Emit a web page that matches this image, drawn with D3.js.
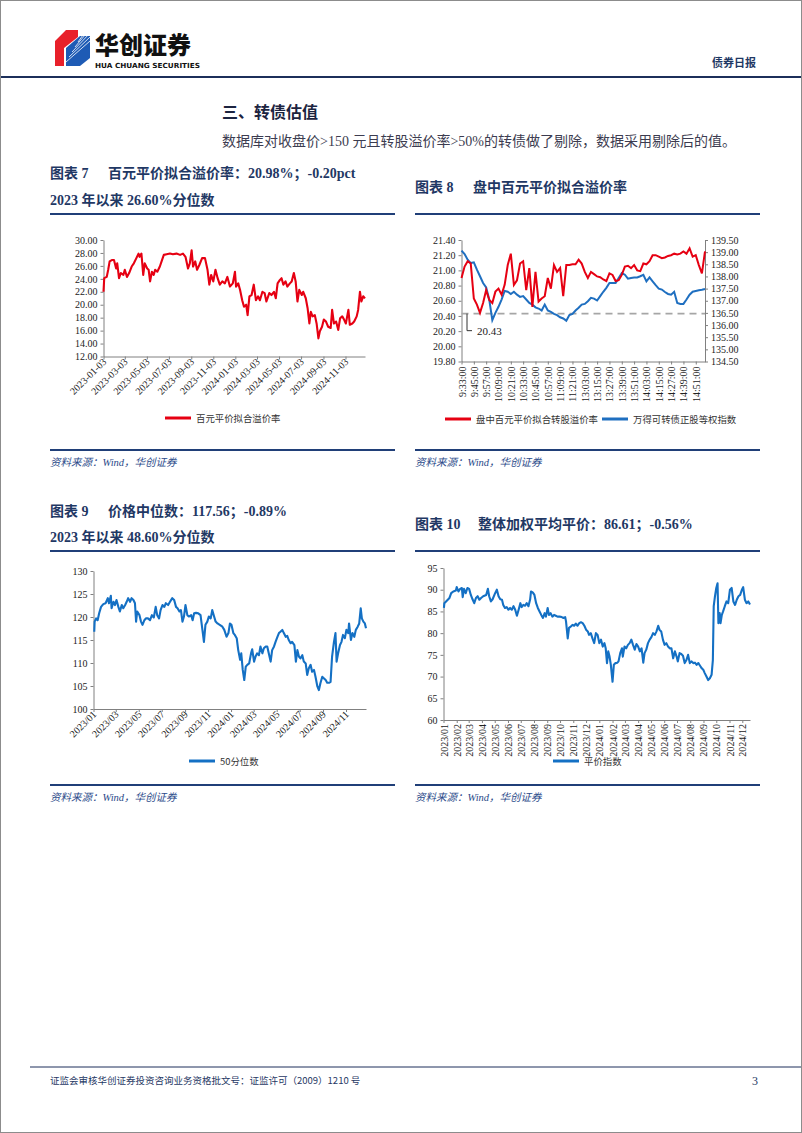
<!DOCTYPE html>
<html>
<head>
<meta charset="utf-8">
<script src="https://cdn.jsdelivr.net/npm/d3@7/dist/d3.min.js"></script>
<style>
  body { margin: 0; background: #fff; }
  svg { font-family: "Liberation Serif", "Noto Sans CJK SC", serif; }
  .cn { font-family: "Noto Sans CJK SC", sans-serif; }
</style>
</head>
<body>
<svg id="page" width="802" height="1133"></svg>
<script>
// 图表 7 百元平价拟合溢价率 (日度, 2023-01 ~ 2024-12)
const c7Dates = ['2023-01-03','2023-01-05','2023-01-12','2023-01-16','2023-01-20','2023-01-26','2023-02-01','2023-02-07','2023-02-10','2023-02-15','2023-02-20','2023-02-27','2023-03-03','2023-03-09','2023-03-15','2023-03-22','2023-03-28','2023-04-04','2023-04-10','2023-04-13','2023-04-18','2023-04-23','2023-04-27','2023-05-04','2023-05-08','2023-05-12','2023-05-17','2023-05-22','2023-05-26','2023-06-01','2023-06-08','2023-06-14','2023-06-19','2023-06-27','2023-07-06','2023-07-14','2023-07-24','2023-08-03','2023-08-11','2023-08-18','2023-08-25','2023-08-30','2023-09-04','2023-09-08','2023-09-14','2023-09-19','2023-09-25','2023-10-03','2023-10-11','2023-10-18','2023-10-23','2023-10-28','2023-11-03','2023-11-09','2023-11-15','2023-11-21','2023-11-28','2023-12-05','2023-12-12','2023-12-19','2023-12-27','2024-01-02','2024-01-05','2024-01-11','2024-01-16','2024-01-22','2024-01-27','2024-02-02','2024-02-06','2024-02-11','2024-02-17','2024-02-23','2024-02-29','2024-03-06','2024-03-11','2024-03-18','2024-03-24','2024-03-29','2024-04-06','2024-04-12','2024-04-19','2024-04-24','2024-04-29','2024-05-05','2024-05-10','2024-05-15','2024-05-21','2024-05-26','2024-06-02','2024-06-07','2024-06-13','2024-06-18','2024-06-23','2024-06-28','2024-07-05','2024-07-09','2024-07-16','2024-07-21','2024-07-26','2024-07-30','2024-08-04','2024-08-10','2024-08-15','2024-08-20','2024-08-24','2024-08-30','2024-09-04','2024-09-10','2024-09-16','2024-09-23','2024-09-27','2024-10-02','2024-10-08','2024-10-14','2024-10-19','2024-10-25','2024-10-30','2024-11-04','2024-11-11','2024-11-15','2024-11-22','2024-11-27','2024-12-04','2024-12-08','2024-12-13','2024-12-17','2024-12-22','2024-12-27'];
const c7Values = [22.0,24.1,24.3,25.4,26.7,26.9,26.9,25.6,26.4,24.1,24.9,24.6,25.4,24.3,24.9,25.9,26.4,27.2,27.9,27.4,27.9,24.6,26.4,25.6,25.4,23.6,25.1,24.6,25.4,25.1,25.9,26.9,27.7,27.8,27.9,27.8,27.9,27.7,27.9,27.4,25.6,26.4,28.4,25.9,26.7,25.4,26.1,27.2,27.2,25.4,23.1,24.6,23.6,25.4,24.1,23.1,23.6,23.3,24.3,22.8,23.3,25.1,22.8,23.3,22.3,20.7,19.7,20.0,18.4,21.3,21.5,23.1,20.7,21.3,20.7,22.0,21.8,20.5,21.8,21.5,22.0,21.0,23.3,23.8,24.1,23.1,23.6,22.8,23.3,23.6,24.9,23.6,20.5,22.3,21.5,22.0,21.0,19.5,17.1,18.9,18.2,18.4,17.1,14.8,15.9,16.6,17.7,17.4,16.6,16.4,19.2,17.1,17.4,16.1,17.9,18.2,17.7,17.1,19.2,16.9,17.1,17.4,18.2,19.2,22.0,20.5,21.3,20.98];
const c7Ticks = ['2023-01-03','2023-03-03','2023-05-03','2023-07-03','2023-09-03','2023-11-03','2024-01-03','2024-03-03','2024-05-03','2024-07-03','2024-09-03','2024-11-03'];

// 图表 8 盘中 (3分钟)
const c8Times = ['9:33:00','9:36:00','9:39:00','9:42:00','9:45:00','9:48:00','9:51:00','9:54:00','9:57:00','10:00:00','10:03:00','10:06:00','10:09:00','10:12:00','10:15:00','10:18:00','10:21:00','10:24:00','10:27:00','10:30:00','10:33:00','10:36:00','10:39:00','10:42:00','10:45:00','10:48:00','10:51:00','10:54:00','10:57:00','11:00:00','11:03:00','11:06:00','11:09:00','11:12:00','11:15:00','11:18:00','11:21:00','11:24:00','11:27:00','11:30:00','13:03:00','13:06:00','13:09:00','13:12:00','13:15:00','13:18:00','13:21:00','13:24:00','13:27:00','13:30:00','13:33:00','13:36:00','13:39:00','13:42:00','13:45:00','13:48:00','13:51:00','13:54:00','13:57:00','14:00:00','14:03:00','14:06:00','14:09:00','14:12:00','14:15:00','14:18:00','14:21:00','14:24:00','14:27:00','14:30:00','14:33:00','14:36:00','14:39:00','14:42:00','14:45:00','14:48:00','14:51:00','14:54:00','14:57:00','15:00:00'];
const c8Premium = [20.90,21.05,21.12,21.09,20.63,20.55,20.44,20.57,20.74,20.61,20.57,20.72,20.76,20.68,20.81,21.07,21.22,20.81,20.87,21.09,21.12,20.74,21.03,20.52,20.98,20.59,20.63,20.66,20.90,20.76,21.07,20.98,21.03,20.66,21.07,21.07,21.08,21.08,21.14,21.09,20.98,20.90,20.98,20.95,20.92,20.91,20.88,20.86,20.96,20.94,20.86,20.87,20.94,21.05,21.06,21.03,21.07,21.00,20.99,21.09,21.08,21.12,21.20,21.20,21.18,21.16,21.17,21.19,21.20,21.22,21.21,21.22,21.25,21.22,21.29,21.18,21.20,21.07,20.96,21.25];
const c8Index = [139.06,138.92,138.69,138.55,138.58,138.28,138.01,137.73,137.55,137.05,136.20,136.50,136.75,137.05,137.40,137.37,137.28,137.37,137.25,137.16,137.19,137.05,136.91,136.84,136.73,136.68,136.60,136.84,136.60,136.54,136.46,136.41,136.32,136.27,136.18,136.41,136.46,136.60,136.71,136.84,136.87,136.98,137.12,137.09,137.01,137.19,137.37,137.53,137.73,137.73,137.73,137.94,138.14,138.07,137.91,137.94,137.96,137.96,138.01,138.07,137.80,137.96,137.80,137.64,137.50,137.46,137.36,137.28,137.25,137.37,136.91,136.87,136.87,137.05,137.25,137.37,137.40,137.43,137.45,137.48];
const c8Base = 20.43;

// 图表 9 价格中位数
const c9Dates = ['2023-01-03','2023-01-04','2023-01-08','2023-01-12','2023-01-16','2023-01-21','2023-01-27','2023-02-02','2023-02-08','2023-02-11','2023-02-16','2023-02-18','2023-02-23','2023-02-27','2023-03-03','2023-03-08','2023-03-12','2023-03-17','2023-03-21','2023-03-26','2023-03-30','2023-04-03','2023-04-08','2023-04-12','2023-04-17','2023-04-21','2023-04-24','2023-04-27','2023-05-03','2023-05-07','2023-05-11','2023-05-16','2023-05-20','2023-05-26','2023-05-31','2023-06-05','2023-06-10','2023-06-15','2023-06-19','2023-06-24','2023-06-28','2023-07-03','2023-07-08','2023-07-12','2023-07-18','2023-07-23','2023-07-29','2023-08-03','2023-08-08','2023-08-12','2023-08-17','2023-08-21','2023-08-25','2023-08-29','2023-09-02','2023-09-07','2023-09-11','2023-09-17','2023-09-21','2023-09-25','2023-09-30','2023-10-06','2023-10-12','2023-10-17','2023-10-21','2023-10-25','2023-10-30','2023-11-03','2023-11-08','2023-11-12','2023-11-17','2023-11-21','2023-11-26','2023-12-02','2023-12-09','2023-12-14','2023-12-20','2023-12-25','2023-12-29','2024-01-02','2024-01-07','2024-01-11','2024-01-16','2024-01-20','2024-01-25','2024-01-28','2024-02-01','2024-02-05','2024-02-09','2024-02-13','2024-02-18','2024-02-23','2024-02-26','2024-03-02','2024-03-06','2024-03-10','2024-03-15','2024-03-19','2024-03-24','2024-03-28','2024-04-02','2024-04-06','2024-04-10','2024-04-15','2024-04-19','2024-04-24','2024-04-28','2024-05-03','2024-05-07','2024-05-11','2024-05-16','2024-05-20','2024-05-25','2024-05-29','2024-06-02','2024-06-07','2024-06-11','2024-06-17','2024-06-21','2024-06-25','2024-06-29','2024-07-03','2024-07-08','2024-07-12','2024-07-17','2024-07-21','2024-07-25','2024-07-30','2024-08-03','2024-08-08','2024-08-12','2024-08-17','2024-08-21','2024-08-25','2024-08-30','2024-09-03','2024-09-08','2024-09-12','2024-09-17','2024-09-21','2024-09-25','2024-09-30','2024-10-04','2024-10-07','2024-10-11','2024-10-16','2024-10-20','2024-10-24','2024-10-29','2024-11-02','2024-11-07','2024-11-09','2024-11-14','2024-11-18','2024-11-23','2024-11-27','2024-12-02','2024-12-06','2024-12-10','2024-12-13','2024-12-17','2024-12-21','2024-12-24'];
const c9Values = [116.8,119.0,119.7,119.3,120.8,122.2,122.8,123.0,124.1,123.0,124.6,121.9,123.3,122.6,123.7,122.2,121.2,122.6,121.9,122.6,123.3,124.1,123.3,124.1,123.7,123.0,119.0,121.2,120.4,119.0,118.3,119.3,119.7,119.7,119.3,120.4,119.9,122.2,120.4,119.7,121.5,122.6,122.2,123.0,122.6,123.3,124.1,123.7,122.2,121.9,121.2,121.5,119.0,120.1,122.6,120.4,120.1,120.4,119.3,120.8,120.9,120.8,120.4,117.2,114.6,118.3,119.0,120.1,119.7,121.5,120.1,119.0,118.6,118.3,117.9,117.2,115.7,116.5,118.6,118.3,116.5,116.1,115.4,112.8,110.7,112.1,108.5,106.3,109.2,109.6,109.9,112.1,113.0,110.3,111.4,112.1,111.7,113.6,112.1,113.2,113.6,113.6,112.1,110.3,112.8,113.6,114.6,115.7,116.5,116.8,117.2,116.5,115.7,115.9,115.0,114.3,114.6,113.9,110.3,112.8,111.4,111.0,111.7,110.3,109.9,107.4,108.8,109.6,108.1,108.5,107.0,104.9,104.1,105.6,107.0,106.7,106.3,105.7,105.7,105.9,111.4,114.6,116.5,110.3,112.1,113.9,114.6,116.1,115.4,117.2,116.5,118.6,115.0,116.5,115.7,117.2,117.9,118.6,121.9,119.7,119.0,118.6,117.56];
const c9Ticks = ['2023/01','2023/03','2023/05','2023/07','2023/09','2023/11','2024/01','2024/03','2024/05','2024/07','2024/09','2024/11'];

// 图表 10 整体加权平均平价
const c10Dates = ['2023-01-02','2023-01-03','2023-01-07','2023-01-11','2023-01-15','2023-01-19','2023-01-24','2023-01-30','2023-02-01','2023-02-05','2023-02-09','2023-02-13','2023-02-15','2023-02-18','2023-02-22','2023-02-26','2023-03-02','2023-03-06','2023-03-10','2023-03-14','2023-03-18','2023-03-22','2023-03-26','2023-03-30','2023-04-04','2023-04-11','2023-04-15','2023-04-18','2023-04-22','2023-04-26','2023-05-02','2023-05-06','2023-05-10','2023-05-14','2023-05-18','2023-05-21','2023-05-25','2023-05-29','2023-06-02','2023-06-06','2023-06-10','2023-06-14','2023-06-18','2023-06-22','2023-06-26','2023-06-30','2023-07-03','2023-07-07','2023-07-11','2023-07-15','2023-07-19','2023-07-23','2023-07-25','2023-07-29','2023-08-02','2023-08-06','2023-08-10','2023-08-14','2023-08-18','2023-08-22','2023-08-26','2023-08-29','2023-09-02','2023-09-05','2023-09-09','2023-09-13','2023-09-17','2023-09-21','2023-09-25','2023-09-30','2023-10-05','2023-10-09','2023-10-13','2023-10-15','2023-10-19','2023-10-22','2023-10-26','2023-10-30','2023-11-03','2023-11-07','2023-11-11','2023-11-15','2023-11-19','2023-11-23','2023-11-27','2023-12-01','2023-12-05','2023-12-08','2023-12-12','2023-12-16','2023-12-20','2023-12-24','2023-12-28','2024-01-01','2024-01-05','2024-01-09','2024-01-13','2024-01-16','2024-01-19','2024-01-22','2024-01-25','2024-01-28','2024-02-01','2024-02-04','2024-02-08','2024-02-12','2024-02-15','2024-02-19','2024-02-23','2024-02-25','2024-02-29','2024-03-04','2024-03-08','2024-03-12','2024-03-16','2024-03-20','2024-03-24','2024-03-28','2024-04-01','2024-04-05','2024-04-09','2024-04-13','2024-04-16','2024-04-20','2024-04-24','2024-04-28','2024-05-02','2024-05-06','2024-05-10','2024-05-14','2024-05-18','2024-05-21','2024-05-25','2024-05-29','2024-06-02','2024-06-06','2024-06-10','2024-06-14','2024-06-18','2024-06-22','2024-06-26','2024-06-30','2024-07-03','2024-07-07','2024-07-11','2024-07-15','2024-07-19','2024-07-23','2024-07-27','2024-07-31','2024-08-04','2024-08-08','2024-08-12','2024-08-16','2024-08-20','2024-08-24','2024-08-28','2024-09-01','2024-09-04','2024-09-08','2024-09-12','2024-09-16','2024-09-20','2024-09-23','2024-09-25','2024-09-28','2024-10-01','2024-10-04','2024-10-06','2024-10-09','2024-10-11','2024-10-14','2024-10-17','2024-10-21','2024-10-25','2024-10-29','2024-11-02','2024-11-06','2024-11-10','2024-11-14','2024-11-18','2024-11-22','2024-11-26','2024-11-30','2024-12-03','2024-12-07','2024-12-11','2024-12-15','2024-12-19'];
const c10Values = [85.8,86.9,87.3,87.7,88.1,89.2,89.6,89.8,90.6,89.6,90.2,90.4,88.3,90.2,89.2,90.4,90.2,88.8,87.8,86.9,88.1,88.5,87.7,88.1,88.5,88.8,90.2,88.5,87.3,87.8,89.2,90.0,88.5,87.8,87.7,86.5,85.8,86.0,85.4,85.8,85.4,86.2,85.4,84.0,85.4,86.9,86.0,86.5,86.3,86.9,86.2,87.8,89.6,89.4,88.8,86.9,85.8,85.0,84.2,83.5,84.6,83.8,85.8,84.2,84.6,83.8,84.2,84.0,83.8,83.8,83.7,83.5,83.7,82.7,78.8,81.2,81.5,81.9,81.7,82.2,81.7,82.3,82.5,82.3,81.7,80.8,80.4,79.6,80.0,78.8,77.7,80.0,79.6,77.7,78.5,76.9,77.7,76.5,73.1,75.8,74.6,72.7,68.8,72.7,73.1,73.2,73.5,75.4,76.5,74.6,76.9,76.5,77.3,77.7,78.5,77.3,76.2,77.5,76.9,75.8,76.5,73.2,75.4,76.2,77.7,78.5,79.1,80.0,79.6,80.4,81.7,80.8,80.4,78.5,77.3,77.7,76.9,76.5,76.5,74.2,75.8,74.6,73.5,75.4,75.2,74.8,73.1,73.8,75.0,73.1,73.5,73.1,73.2,72.7,73.1,72.5,71.9,71.5,70.8,70.0,69.2,69.6,70.4,73.8,86.2,88.5,90.4,91.5,82.3,84.6,82.3,84.2,85.0,86.2,87.3,86.9,90.0,90.4,87.3,86.5,87.7,88.5,88.8,90.0,90.6,87.7,86.9,87.3,86.61];
const c10Ticks = ['2023/01','2023/02','2023/03','2023/04','2023/05','2023/06','2023/07','2023/08','2023/09','2023/10','2023/11','2023/12','2024/01','2024/02','2024/03','2024/04','2024/05','2024/06','2024/07','2024/08','2024/09','2024/10','2024/11','2024/12'];

const NAVY = '#1f3864';
const RED = '#e60012';
const BLUE = '#1470c4';
const AXIS = '#808080';
const parseDay = d3.timeParse('%Y-%m-%d');
const parseMonth = d3.timeParse('%Y/%m');

const svg = d3.select('#page');

// ---- 页面框架 ----
svg.append('rect').attr('x', 0.5).attr('y', 0.5).attr('width', 801).attr('height', 1132)
  .attr('fill', '#fff').attr('stroke', '#8c8c8c');
svg.append('line').attr('x1', 1).attr('x2', 801).attr('y1', 77).attr('y2', 77)
  .attr('stroke', '#1c2f5a').attr('stroke-width', 2);

// logo
const logo = svg.append('g');
logo.append('polygon').attr('points', '55,41 66,30 78,30 78,37 64,48 64,66 55,66').attr('fill', '#e8202a');
logo.append('polygon').attr('points', '66,48 80,36 90,36 90,58 80,66 66,66').attr('fill', '#1e5bb5');
[0, 5, 10, 15, 20].forEach(o => {
  logo.append('line').attr('x1', 66 + o * 0.6).attr('y1', 62 - o).attr('x2', 90).attr('y2', 41 + o * 0.2 - o)
    .attr('stroke', '#fff').attr('stroke-width', 0.8);
});
svg.append('text').attr('class', 'cn').attr('x', 95).attr('y', 54)
  .attr('font-size', 24).attr('font-weight', 900).attr('fill', '#111').text('华创证券');
svg.append('text').attr('x', 95).attr('y', 67.5).style('font-family', '"DejaVu Sans Condensed", "DejaVu Sans", sans-serif')
  .attr('font-size', 7).attr('font-weight', 'bold').attr('fill', '#111')
  .attr('textLength', 105).attr('lengthAdjust', 'spacingAndGlyphs').text('HUA CHUANG SECURITIES');
svg.append('text').attr('class', 'cn').attr('x', 712).attr('y', 67)
  .attr('font-size', 11).attr('font-weight', 'bold').attr('fill', NAVY).text('债券日报');

// 正文
svg.append('text').attr('x', 222).attr('y', 118).attr('font-size', 16).attr('font-weight', 'bold')
  .attr('fill', '#1c2440').text('三、转债估值');
svg.append('text').attr('x', 222).attr('y', 146).attr('font-size', 14).attr('fill', '#3c3c50')
  .text('数据库对收盘价>150 元且转股溢价率>50%的转债做了剔除，数据采用剔除后的值。');

// 标题、分隔线、资料来源
function caption(x, num, lines, lineY, srcY, width) {
  lines.forEach((l, i) => {
    if (i === 0) {
      svg.append('text').attr('x', x).attr('y', l.y).attr('font-size', 14).attr('font-weight', 'bold')
        .attr('fill', NAVY).text('图表 ' + num);
      svg.append('text').attr('x', x + (num.length > 1 ? 63 : 58)).attr('y', l.y).attr('font-size', 14)
        .attr('font-weight', 'bold').attr('fill', NAVY).text(l.t);
    } else {
      svg.append('text').attr('x', x).attr('y', l.y).attr('font-size', 14).attr('font-weight', 'bold')
        .attr('fill', NAVY).text(l.t);
    }
  });
  svg.append('line').attr('x1', x).attr('x2', x + width).attr('y1', lineY).attr('y2', lineY)
    .attr('stroke', '#203f78').attr('stroke-width', 2);
  svg.append('line').attr('x1', x).attr('x2', x + width).attr('y1', srcY - 16).attr('y2', srcY - 16)
    .attr('stroke', '#203f78').attr('stroke-width', 2);
  svg.append('text').attr('x', x).attr('y', srcY).attr('font-size', 10.5).attr('font-style', 'italic')
    .attr('fill', '#2b4a8a').text('资料来源：Wind，华创证券');
}
caption(50, '7', [{ y: 178, t: '百元平价拟合溢价率：20.98%；-0.20pct' }, { y: 205, t: '2023 年以来 26.60%分位数' }], 214, 466, 345);
caption(415, '8', [{ y: 192, t: '盘中百元平价拟合溢价率' }], 214, 466, 345);
caption(50, '9', [{ y: 516, t: '价格中位数：117.56；-0.89%' }, { y: 542, t: '2023 年以来 48.60%分位数' }], 551, 801, 345);
caption(415, '10', [{ y: 529, t: '整体加权平均平价：86.61；-0.56%' }], 551, 801, 345);

// 坐标轴样式
function styleAxis(g) {
  g.attr('font-family', null);
  g.selectAll('path.domain').attr('stroke', AXIS);
  g.selectAll('.tick line').attr('stroke', AXIS);
  g.selectAll('text').attr('font-size', 10).attr('fill', '#222');
}

function legendItem(x, y, color, label) {
  svg.append('line').attr('x1', x).attr('x2', x + 26).attr('y1', y).attr('y2', y)
    .attr('stroke', color).attr('stroke-width', 3);
  svg.append('text').attr('class', 'cn').attr('x', x + 31).attr('y', y + 3.5)
    .attr('font-size', 9.4).attr('fill', '#333').text(label);
}

// 日度折线 (图表 7/9/10)
function dailyChart(o) {
  const pts = o.dates.map((d, i) => ({ d: parseDay(d), v: o.values[i] }));
  const x = d3.scaleTime().domain([parseDay(o.start), pts[pts.length - 1].d]).range([o.x0, o.x1]);
  const y = d3.scaleLinear().domain(o.yDomain).range([o.y1, o.y0]);
  const ya = svg.append('g').attr('transform', `translate(${o.x0},0)`)
    .call(d3.axisLeft(y).tickValues(d3.range(o.yDomain[0], o.yDomain[1] + 0.001, o.yStep))
      .tickFormat(d3.format(o.yFmt)).tickSize(3).tickSizeOuter(0));
  styleAxis(ya);
  const xa = svg.append('g').attr('transform', `translate(0,${o.y1})`)
    .call(d3.axisBottom(x).tickValues(o.ticks.map(o.tickParse)).tickFormat(o.tickFmt).tickSize(3).tickSizeOuter(0));
  styleAxis(xa);
  xa.selectAll('text').attr('text-anchor', 'end').attr('dy', null)
    .attr('x', o.rot === -90 ? -4 : -2).attr('y', o.rot === -90 ? 0 : 4)
    .attr('dominant-baseline', o.rot === -90 ? 'central' : 'middle')
    .attr('transform', `rotate(${o.rot})`);
  svg.append('path').datum(pts)
    .attr('fill', 'none').attr('stroke', o.color).attr('stroke-width', 2.1).attr('stroke-linejoin', 'round')
    .attr('d', d3.line().x(p => x(p.d)).y(p => y(p.v)));
}

dailyChart({ dates: c7Dates, values: c7Values, start: '2023-01-03', x0: 103.5, x1: 365, y0: 240, y1: 356.5,
  yDomain: [12, 30], yStep: 2, yFmt: '.2f', ticks: c7Ticks, tickParse: parseDay,
  tickFmt: d3.timeFormat('%Y-%m-%d'), rot: -45, color: RED });
legendItem(165, 418, RED, '百元平价拟合溢价率');

dailyChart({ dates: c9Dates, values: c9Values, start: '2023-01-01', x0: 93.5, x1: 366, y0: 571, y1: 709,
  yDomain: [100, 130], yStep: 5, yFmt: 'd', ticks: c9Ticks, tickParse: parseMonth,
  tickFmt: d3.timeFormat('%Y/%m'), rot: -45, color: BLUE });
legendItem(189, 761, BLUE, '50分位数');

dailyChart({ dates: c10Dates, values: c10Values, start: '2023-01-01', x0: 443.5, x1: 750, y0: 568, y1: 720,
  yDomain: [60, 95], yStep: 5, yFmt: 'd', ticks: c10Ticks, tickParse: parseMonth,
  tickFmt: d3.timeFormat('%Y/%m'), rot: -90, color: BLUE });
legendItem(553, 761, BLUE, '平价指数');

// 图表 8 双轴
(function () {
  const x = d3.scalePoint().domain(c8Times).range([461.5, 705]);
  const yL = d3.scaleLinear().domain([19.8, 21.4]).range([361.5, 240]);
  const yR = d3.scaleLinear().domain([134.5, 139.5]).range([361.5, 240]);
  const la = svg.append('g').attr('transform', 'translate(461.5,0)')
    .call(d3.axisLeft(yL).tickValues(d3.range(19.8, 21.41, 0.2)).tickFormat(d3.format('.2f')).tickSize(3).tickSizeOuter(0));
  styleAxis(la);
  const ra = svg.append('g').attr('transform', 'translate(705,0)')
    .call(d3.axisRight(yR).tickValues(d3.range(134.5, 139.51, 0.5)).tickFormat(d3.format('.2f')).tickSize(3).tickSizeOuter(0));
  styleAxis(ra);
  const xa = svg.append('g').attr('transform', 'translate(0,361.5)')
    .call(d3.axisBottom(x).tickValues(c8Times.filter((t, i) => i % 4 === 0)).tickSize(3).tickSizeOuter(0));
  styleAxis(xa);
  xa.selectAll('text').attr('text-anchor', 'end').attr('dy', null).attr('x', -5).attr('y', 0)
    .attr('dominant-baseline', 'central').attr('transform', 'rotate(-90)');

  // 基准虚线与标注
  svg.append('line').attr('x1', x(c8Times[0])).attr('x2', 705).attr('y1', yL(c8Base)).attr('y2', yL(c8Base))
    .attr('stroke', '#a6a6a6').attr('stroke-width', 1.6).attr('stroke-dasharray', '7,5');
  svg.append('path').attr('fill', 'none').attr('stroke', '#333').attr('stroke-width', 1)
    .attr('d', `M467,${yL(c8Base)}V${yL(c8Base) + 17}H472`);
  svg.append('text').attr('x', 477).attr('y', yL(c8Base) + 21).attr('font-size', 11).attr('fill', '#222')
    .text(c8Base.toFixed(2));

  svg.append('path').datum(c8Index).attr('fill', 'none').attr('stroke', '#1f6fc0').attr('stroke-width', 2)
    .attr('d', d3.line().x((v, i) => x(c8Times[i])).y(v => yR(v)));
  svg.append('path').datum(c8Premium).attr('fill', 'none').attr('stroke', RED).attr('stroke-width', 2)
    .attr('d', d3.line().x((v, i) => x(c8Times[i])).y(v => yL(v)));

  legendItem(445, 419, RED, '盘中百元平价拟合转股溢价率');
  legendItem(602, 419, '#1f6fc0', '万得可转债正股等权指数');
})();

// 页脚
svg.append('line').attr('x1', 30).attr('x2', 801).attr('y1', 1067).attr('y2', 1067)
  .attr('stroke', '#1c2f5a').attr('stroke-width', 1);
svg.append('text').attr('class', 'cn').attr('x', 50).attr('y', 1084).attr('font-size', 9.5).attr('fill', NAVY)
  .text('证监会审核华创证券投资咨询业务资格批文号：证监许可（2009）1210 号');
svg.append('text').attr('x', 752).attr('y', 1085).attr('font-size', 12).attr('fill', NAVY).text('3');
</script>
</body>
</html>
